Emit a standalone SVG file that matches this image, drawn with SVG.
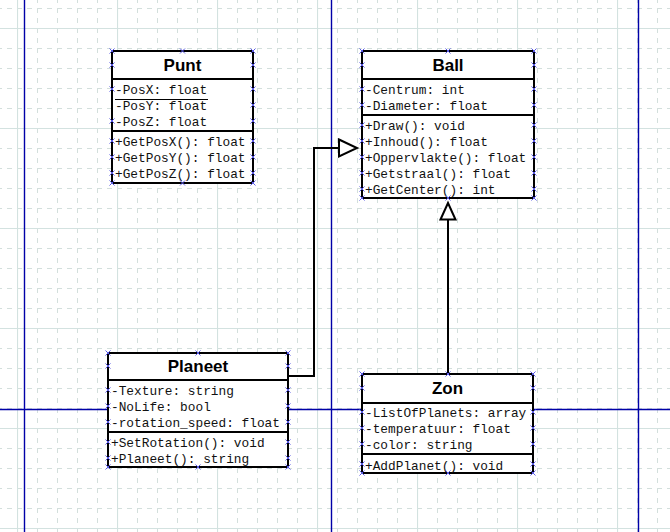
<svg xmlns="http://www.w3.org/2000/svg" width="670" height="532" viewBox="0 0 670 532">
<defs>
<pattern id="minor" x="17" y="8" width="20" height="20" patternUnits="userSpaceOnUse">
<line x1="0.5" y1="0" x2="0.5" y2="20" stroke="#d3dfdc" stroke-width="1" stroke-dasharray="5 5"/>
<line x1="0" y1="0.5" x2="20" y2="0.5" stroke="#d3dfdc" stroke-width="1" stroke-dasharray="5 5"/>
</pattern>
<pattern id="major" x="17" y="28" width="100" height="100" patternUnits="userSpaceOnUse">
<line x1="0.5" y1="0" x2="0.5" y2="100" stroke="#d3e2e0" stroke-width="1.2"/>
<line x1="0" y1="0.5" x2="100" y2="0.5" stroke="#d3e2e0" stroke-width="1.2"/>
</pattern>
<g id="cp"><path d="M-2.5,-2.5 L2.5,2.5 M-2.5,2.5 L2.5,-2.5" stroke="#5a5ae6" stroke-width="1" fill="none"/></g>
</defs>
<style>
.box{fill:#fff;stroke:#000;stroke-width:2}
.sep{stroke:#000;stroke-width:2}
.title{font-family:"Liberation Sans",Arial,sans-serif;font-weight:bold;font-size:17px;fill:#000;text-anchor:middle}
.m{font-family:"Liberation Mono","Courier New",monospace;font-size:12.8px;fill:#111}
.conn{fill:none;stroke:#000;stroke-width:2}
.tri{fill:#fff;stroke:#000;stroke-width:2;stroke-linejoin:miter}
.guide{stroke:#0000a8;stroke-width:1.4}
</style>
<rect width="670" height="532" fill="#fff"/>
<rect width="670" height="532" fill="url(#minor)"/>
<rect width="670" height="532" fill="url(#major)"/>
<g id="guides">
<line class="guide" x1="24.5" y1="0" x2="24.5" y2="532"/>
<line class="guide" x1="331.5" y1="0" x2="331.5" y2="532" stroke-width="1"/>
<line class="guide" x1="638.5" y1="0" x2="638.5" y2="532"/>
<line class="guide" x1="0" y1="409.5" x2="670" y2="409.5"/>
</g>
<g id="connectors">
<polyline class="conn" points="288,376 314,376 314,148 339,148"/>
<polygon class="tri" points="339,139.5 357,148 339,156.5"/>
<line class="conn" x1="448" y1="374" x2="448" y2="219.5"/>
<polygon class="tri" points="440.5,219.5 448,203 455.5,219.5"/>
</g>
<g id="Punt">
<rect class="box" x="112" y="51" width="141" height="132"/>
<line class="sep" x1="112" y1="79" x2="253" y2="79"/>
<line class="sep" x1="112" y1="131" x2="253" y2="131"/>
<text class="title" x="182.5" y="71">Punt</text>
<text class="m" x="115" y="94">-PosX: float</text>
<line x1="115" y1="99.5" x2="208" y2="99.5" stroke="#000" stroke-width="1"/>
<text class="m" x="115" y="110">-PosY: float</text>
<text class="m" x="115" y="126">-PosZ: float</text>
<text class="m" x="115" y="146">+GetPosX(): float</text>
<text class="m" x="115" y="162">+GetPosY(): float</text>
<text class="m" x="115" y="178">+GetPosZ(): float</text>
<use href="#cp" x="112" y="51"/><use href="#cp" x="182.5" y="51"/><use href="#cp" x="253" y="51"/>
<use href="#cp" x="112" y="65"/><use href="#cp" x="253" y="65"/>
<use href="#cp" x="112" y="89"/><use href="#cp" x="253" y="89"/>
<use href="#cp" x="253" y="105"/>
<use href="#cp" x="112" y="121"/><use href="#cp" x="253" y="121"/>
<use href="#cp" x="112" y="141"/><use href="#cp" x="253" y="141"/>
<use href="#cp" x="112" y="157"/><use href="#cp" x="253" y="157"/>
<use href="#cp" x="112" y="173"/><use href="#cp" x="253" y="173"/>
<use href="#cp" x="112" y="183"/><use href="#cp" x="182.5" y="183"/><use href="#cp" x="253" y="183"/>
</g>
<g id="Ball">
<rect class="box" x="362" y="51" width="172" height="147"/>
<line class="sep" x1="362" y1="79" x2="534" y2="79"/>
<line class="sep" x1="362" y1="115" x2="534" y2="115"/>
<text class="title" x="448" y="71">Ball</text>
<text class="m" x="365" y="94">-Centrum: int</text>
<text class="m" x="365" y="110">-Diameter: float</text>
<text class="m" x="365" y="130">+Draw(): void</text>
<text class="m" x="365" y="146">+Inhoud(): float</text>
<text class="m" x="365" y="162">+Oppervlakte(): float</text>
<text class="m" x="365" y="178">+Getstraal(): float</text>
<text class="m" x="365" y="194">+GetCenter(): int</text>
<use href="#cp" x="362" y="51"/><use href="#cp" x="448" y="51"/><use href="#cp" x="534" y="51"/>
<use href="#cp" x="362" y="65"/><use href="#cp" x="534" y="65"/>
<use href="#cp" x="362" y="89"/><use href="#cp" x="534" y="89"/>
<use href="#cp" x="362" y="105"/><use href="#cp" x="534" y="105"/>
<use href="#cp" x="362" y="125"/><use href="#cp" x="534" y="125"/>
<use href="#cp" x="362" y="141"/><use href="#cp" x="534" y="141"/>
<use href="#cp" x="362" y="157"/><use href="#cp" x="534" y="157"/>
<use href="#cp" x="362" y="173"/><use href="#cp" x="534" y="173"/>
<use href="#cp" x="362" y="189"/><use href="#cp" x="534" y="189"/>
<use href="#cp" x="362" y="198"/><use href="#cp" x="448" y="198"/><use href="#cp" x="534" y="198"/>
</g>
<g id="Planeet">
<rect class="box" x="108" y="353" width="180" height="114"/>
<line class="sep" x1="108" y1="380" x2="288" y2="380"/>
<line class="sep" x1="108" y1="432" x2="288" y2="432"/>
<text class="title" x="198" y="372">Planeet</text>
<text class="m" x="111" y="395">-Texture: string</text>
<text class="m" x="111" y="411">-NoLife: bool</text>
<text class="m" x="111" y="426.5">-rotation_speed: float</text>
<text class="m" x="111" y="447">+SetRotation(): void</text>
<text class="m" x="111" y="463">+Planeet(): string</text>
<use href="#cp" x="108" y="353"/><use href="#cp" x="198" y="353"/><use href="#cp" x="288" y="353"/>
<use href="#cp" x="108" y="366"/><use href="#cp" x="288" y="366"/>
<use href="#cp" x="108" y="390"/><use href="#cp" x="288" y="390"/>
<use href="#cp" x="108" y="406"/><use href="#cp" x="288" y="406"/>
<use href="#cp" x="108" y="422"/><use href="#cp" x="288" y="422"/>
<use href="#cp" x="108" y="442"/><use href="#cp" x="288" y="442"/>
<use href="#cp" x="108" y="458"/><use href="#cp" x="288" y="458"/>
<use href="#cp" x="108" y="467"/><use href="#cp" x="198" y="467"/><use href="#cp" x="288" y="467"/>
</g>
<g id="Zon">
<rect class="box" x="362" y="374" width="171" height="99"/>
<line class="sep" x1="362" y1="403" x2="533" y2="403"/>
<line class="sep" x1="362" y1="454" x2="533" y2="454"/>
<text class="title" x="447.5" y="394">Zon</text>
<text class="m" x="365" y="417">-ListOfPlanets: array</text>
<text class="m" x="365" y="433">-temperatuur: float</text>
<text class="m" x="365" y="448.5">-color: string</text>
<text class="m" x="365" y="469.5">+AddPlanet(): void</text>
<use href="#cp" x="362" y="374"/><use href="#cp" x="448" y="374"/><use href="#cp" x="533" y="374"/>
<use href="#cp" x="362" y="388"/><use href="#cp" x="533" y="388"/>
<use href="#cp" x="362" y="412"/><use href="#cp" x="533" y="412"/>
<use href="#cp" x="362" y="428"/><use href="#cp" x="533" y="428"/>
<use href="#cp" x="362" y="444"/><use href="#cp" x="533" y="444"/>
<use href="#cp" x="362" y="464"/><use href="#cp" x="533" y="464"/>
<use href="#cp" x="362" y="473"/><use href="#cp" x="448" y="473"/><use href="#cp" x="533" y="473"/>
</g>
</svg>
